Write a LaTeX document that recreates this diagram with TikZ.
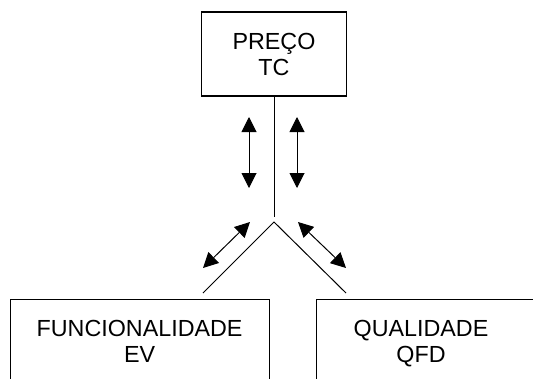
\documentclass[tikz,border=0pt]{standalone}
\usepackage{fontspec}
\setmainfont{Liberation Sans}
\usetikzlibrary{arrows.meta,positioning,calc}

\begin{document}
\begin{tikzpicture}[
  x=1pt,y=-1pt,
  box/.style={draw=black,line width=1.2pt,minimum height=84pt,inner sep=0pt,align=center,font=\fontsize{23.3}{26}\selectfont},
  boxtext/.style={inner sep=0pt,align=center,font=\fontsize{23.3}{26}\selectfont},
  link/.style={line width=1pt},
  arrow/.style={{Triangle[length=15pt,width=15pt]}-{Triangle[length=15pt,width=15pt]},line width=1pt}
]
\useasboundingbox (0,0) rectangle (533,378);
\clip (0,0) rectangle (533,378);
\node[box,minimum width=145pt] (preco) at (274,54) {PREÇO\\TC};
\node[box,minimum width=259pt,anchor=north west] (func) at (9.5,299) {FUNCIONALIDADE\\EV};
\node[box,minimum width=259pt,anchor=north west] (qual) at (316,299) {};
\node[boxtext] (qualtext) at ($(qual.north west)+(105,45)$) {QUALIDADE\\QFD};
% ligacoes
\coordinate (fork) at (274,217);
\coordinate (apex) at (274,222);
\coordinate (leftend) at (203,293);
\coordinate (rightend) at (346,293);
\draw[link] (preco.south) -- (fork);
\draw[link] (leftend) -- (apex) -- (rightend);
% setas
\coordinate (up1) at (249,117); \coordinate (down1) at (249,188);
\coordinate (up2) at (297,117); \coordinate (down2) at (297,188);
\coordinate (left1) at (203,268); \coordinate (left2) at (250,222);
\coordinate (right1) at (298,222); \coordinate (right2) at (346,268);
\draw[arrow] (up1) -- (down1);
\draw[arrow] (up2) -- (down2);
\draw[arrow] (left1) -- (left2);
\draw[arrow] (right1) -- (right2);
\end{tikzpicture}
\end{document}
